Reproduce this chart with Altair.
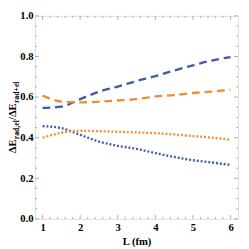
import altair as alt
import pandas as pd

# ---- data ----
L = [1, 1.5, 2, 2.5, 3, 3.5, 4, 4.5, 5, 5.5, 6]
blue_dashed = [0.547, 0.553, 0.590, 0.627, 0.652, 0.679, 0.703, 0.731, 0.756, 0.780, 0.797]
orange_dashed = [0.607, 0.578, 0.574, 0.577, 0.583, 0.590, 0.603, 0.610, 0.620, 0.627, 0.637]
blue_dotted = [0.457, 0.447, 0.414, 0.381, 0.360, 0.345, 0.324, 0.305, 0.289, 0.278, 0.266]
orange_dotted = [0.400, 0.424, 0.434, 0.432, 0.429, 0.426, 0.422, 0.416, 0.408, 0.400, 0.390]

series_names = ["blue dashed", "orange dashed", "blue dotted", "orange dotted"]
series_values = [blue_dashed, orange_dashed, blue_dotted, orange_dotted]
series_colors = ["#3E59A9", "#F28C30", "#3E59A9", "#F28C30"]
series_dash = [[8, 5], [8, 5], [2, 2], [2, 2]]

x_labels = [1, 2, 3, 4, 5, 6]
y_labels = [0.0, 0.2, 0.4, 0.6, 0.8, 1.0]
x_minor = [round(1 + 0.2 * i, 2) for i in range(26) if i % 5 != 0]
y_minor = [round(0.05 * i, 2) for i in range(1, 20) if i % 4 != 0]

rows = []
for name, vals in zip(series_names, series_values):
    for l, v in zip(L, vals):
        rows.append({"L": l, "value": v, "series": name})
df = pd.DataFrame(rows)

W, H = 210, 210
FONT = "Liberation Serif"
FRAME = "#aaaaaa"

xscale = alt.Scale(domain=[0.8, 6.2], nice=False, zero=False)
yscale = alt.Scale(domain=[0, 1], nice=False, zero=False)

lines = alt.Chart(df).mark_line(strokeWidth=2.4, strokeCap="butt", interpolate="monotone").encode(
    x=alt.X("L:Q", scale=xscale,
            axis=alt.Axis(values=x_labels, format="d", ticks=False, domain=False, grid=False,
                          labelFont=FONT, labelFontWeight="bold", labelFontSize=11, labelColor="black",
                          labelPadding=3, title="L (fm)", titleFont=FONT, titleFontWeight="bold",
                          titleFontSize=11, titleColor="black", titlePadding=4)),
    y=alt.Y("value:Q", scale=yscale,
            axis=alt.Axis(values=y_labels, format=".1f", ticks=False, domain=False, grid=False,
                          labelFont=FONT, labelFontWeight="bold", labelFontSize=11, labelColor="black",
                          labelPadding=2, title=None)),
    color=alt.Color("series:N", scale=alt.Scale(domain=series_names, range=series_colors), legend=None),
    strokeDash=alt.StrokeDash("series:N", scale=alt.Scale(domain=series_names, range=series_dash), legend=None),
    detail="series:N",
)

def xticks(vals, length):
    d = pd.DataFrame({"v": vals})
    bottom = alt.Chart(d).mark_rule(color=FRAME, strokeWidth=1).encode(
        x=alt.X("v:Q", scale=xscale), y=alt.value(H), y2=alt.value(H - length))
    top = alt.Chart(d).mark_rule(color=FRAME, strokeWidth=1).encode(
        x=alt.X("v:Q", scale=xscale), y=alt.value(0), y2=alt.value(length))
    return [bottom, top]

def yticks(vals, length):
    d = pd.DataFrame({"v": vals})
    left = alt.Chart(d).mark_rule(color=FRAME, strokeWidth=1).encode(
        y=alt.Y("v:Q", scale=yscale), x=alt.value(0), x2=alt.value(length))
    right = alt.Chart(d).mark_rule(color=FRAME, strokeWidth=1).encode(
        y=alt.Y("v:Q", scale=yscale), x=alt.value(W), x2=alt.value(W - length))
    return [left, right]

ticks = xticks(x_labels, 4) + xticks(x_minor, 2) + yticks(y_labels, 4) + yticks(y_minor, 2)

# ---- y title built from pieces (main text + subscripts) ----
one = pd.DataFrame({"a": [0]})
main_x = -19.5
sub_x = -17.0
pieces = [("ΔE", 11, main_x, 14.5), ("rad,el", 8, sub_x, 19.8), ("/", 11, main_x, 3.1),
          ("ΔE", 11, main_x, 14.5), ("rad+el", 8, sub_x, 22.3)]
total = sum(p[3] for p in pieces)
start = H / 2 + total / 2
title_layers = []
pos = start
for txt, size, xx, w in pieces:
    title_layers.append(
        alt.Chart(one).mark_text(text=txt, font=FONT, fontWeight="bold", fontSize=size, angle=270,
                                 align="left", baseline="alphabetic", color="black").encode(
            x=alt.value(xx), y=alt.value(pos)))
    pos -= w

chart = alt.layer(lines, *ticks, *title_layers).properties(
    width=W, height=H,
    autosize=alt.AutoSizeParams(type="none"),
    padding={"left": 28, "top": 4, "right": 3, "bottom": 27},
).configure_view(stroke=FRAME, strokeWidth=1).configure(background="white")

chart.save("out.html", embed_options={"renderer": "svg", "actions": False})
